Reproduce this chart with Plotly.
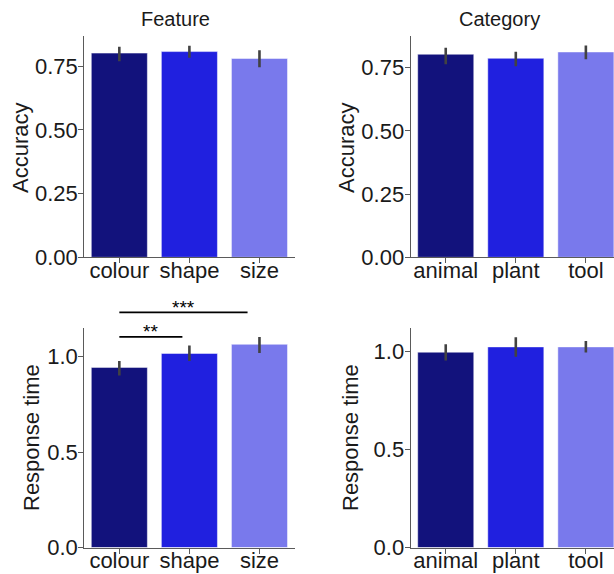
import plotly.graph_objects as go

# ---- data -----------------------------------------------------------------
features = ["colour", "shape", "size"]
categories = ["animal", "plant", "tool"]

feat_acc = [0.801, 0.807, 0.780]
feat_acc_lo = [0.769, 0.783, 0.746]
feat_acc_hi = [0.826, 0.830, 0.812]

cat_acc = [0.803, 0.787, 0.812]
cat_acc_lo = [0.763, 0.756, 0.783]
cat_acc_hi = [0.829, 0.813, 0.838]

feat_rt = [0.944, 1.017, 1.065]
feat_rt_lo = [0.902, 0.978, 1.020]
feat_rt_hi = [0.977, 1.059, 1.103]

cat_rt = [0.997, 1.024, 1.024]
cat_rt_lo = [0.954, 0.974, 0.995]
cat_rt_hi = [1.038, 1.073, 1.054]

acc_ticks = [0.0, 0.25, 0.5, 0.75]
rt_ticks = [0.0, 0.5, 1.0]

# significance brackets on the feature response-time panel: (x0, x1, y, label)
sig_brackets = [
    (0.0, 0.9, 1.104, "**"),
    (0.0, 1.83, 1.232, "***"),
]

# ---- styling ----------------------------------------------------------------
bar_colors = ["#12127c", "#2020df", "#7979ec"]
err_color = "#424242"
spine_color = "#5a5a5a"
text_color = "#1a1a1a"
FONT = "Liberation Sans, Arial, sans-serif"

W, H = 614, 574
x_left = [84.3 / W, 294.5 / W]
x_right = [410.7 / W, 1.0]
y_top = [1 - 257.3 / H, 1 - 36.3 / H]
y_bot = [1 - 547.5 / H, 1 - 327.7 / H]

px_per_cat = (x_left[1] - x_left[0]) * W / 3.0
right_end = -0.5 + (x_right[1] - x_right[0]) * W / px_per_cat

panels = [
    # (axis suffix, x domain, y domain, x range, y max, labels, means, lo, hi, ytitle, ticks, fmt, title centre px)
    ("", x_left, y_top, [-0.5, 2.5], 0.867, features, feat_acc, feat_acc_lo, feat_acc_hi,
     "Accuracy", acc_ticks, ".2f", (20, 148)),
    ("2", x_right, y_top, [-0.5, right_end], 0.874, categories, cat_acc, cat_acc_lo, cat_acc_hi,
     "Accuracy", acc_ticks, ".2f", (346, 148)),
    ("3", x_left, y_bot, [-0.5, 2.5], 1.152, features, feat_rt, feat_rt_lo, feat_rt_hi,
     "Response time", rt_ticks, ".1f", (32, 438)),
    ("4", x_right, y_bot, [-0.5, right_end], 1.122, categories, cat_rt, cat_rt_lo, cat_rt_hi,
     "Response time", rt_ticks, ".1f", (351, 438)),
]

fig = go.Figure()
layout = dict(
    width=W, height=H,
    margin=dict(l=0, r=0, t=0, b=0, autoexpand=False),
    paper_bgcolor="white", plot_bgcolor="white",
    showlegend=False,
    font=dict(family=FONT, color=text_color, size=22),
)

axis_common = dict(
    showline=True, linecolor=spine_color, linewidth=1.3,
    showgrid=False, zeroline=False, automargin=False,
    ticks="outside", ticklen=5, tickwidth=1.2, tickcolor=spine_color,
    tickfont=dict(family=FONT, size=22, color=text_color),
)

for suffix, xd, yd, xr, ymax, labels, means, lo, hi, ytitle, ticks, fmt, tpos in panels:
    xa, ya = "x" + suffix, "y" + suffix
    fig.add_trace(go.Bar(
        x=list(range(len(labels))), y=means,
        width=0.8,
        marker=dict(color=bar_colors, line=dict(color="rgba(255,255,255,0.6)", width=0.8)),
        error_y=dict(
            type="data", symmetric=False,
            array=[h - m for h, m in zip(hi, means)],
            arrayminus=[m - l for m, l in zip(means, lo)],
            color=err_color, thickness=2.6, width=0,
        ),
        xaxis=xa, yaxis=ya,
        hoverinfo="skip",
    ))
    layout["xaxis" + suffix] = dict(
        axis_common, domain=xd, anchor=ya, range=xr,
        tickmode="array", tickvals=list(range(len(labels))), ticktext=labels,
        ticklabelstandoff=-12,
    )
    layout["yaxis" + suffix] = dict(
        axis_common, domain=yd, anchor=xa, range=[0, ymax],
        tickmode="array", tickvals=ticks, tickformat=fmt,
        ticklabelstandoff=-4,
    )
    # y-axis label
    fig.add_annotation(text=ytitle, x=tpos[0] / W, y=1 - tpos[1] / H,
                       xref="paper", yref="paper", textangle=-90,
                       xanchor="center", yanchor="middle", showarrow=False,
                       font=dict(family=FONT, size=22, color=text_color))

fig.update_layout(**layout)

# column headings
fig.add_annotation(text="Feature", x=175 / W, y=1 - 19 / H, xref="paper", yref="paper",
                   xanchor="center", yanchor="middle", showarrow=False,
                   font=dict(family=FONT, size=20, color=text_color))
fig.add_annotation(text="Category", x=499 / W, y=1 - 19 / H, xref="paper", yref="paper",
                   xanchor="center", yanchor="middle", showarrow=False,
                   font=dict(family=FONT, size=20, color=text_color))

# significance brackets (drawn in axis-domain units so they can sit above the axes)
rt_xr, rt_ymax = [-0.5, 2.5], 1.152
for x0, x1, yv, label in sig_brackets:
    f0 = (x0 - rt_xr[0]) / (rt_xr[1] - rt_xr[0])
    f1 = (x1 - rt_xr[0]) / (rt_xr[1] - rt_xr[0])
    fy = yv / rt_ymax
    fig.add_shape(type="line", xref="x3 domain", yref="y3 domain",
                  x0=f0, x1=f1, y0=fy, y1=fy,
                  line=dict(color="black", width=1.8))
    fig.add_annotation(text=label, xref="x3 domain", yref="y3 domain",
                       x=(f0 + f1) / 2, y=fy, yshift=5,
                       xanchor="center", yanchor="middle", showarrow=False,
                       font=dict(family=FONT, size=19, color="black"))

fig.write_html("out.html")
